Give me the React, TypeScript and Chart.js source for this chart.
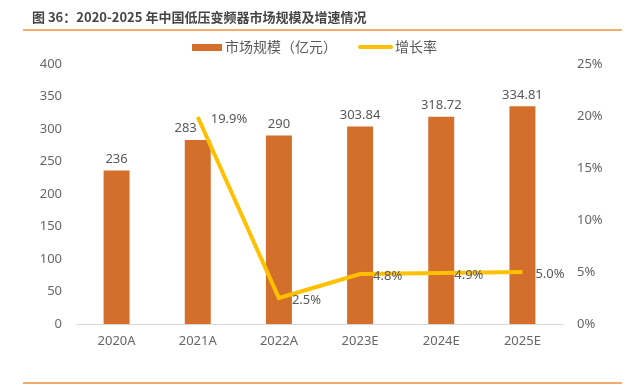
import React, { useEffect, useRef } from 'react';
import { Chart, registerables } from 'chart.js';

Chart.register(...registerables);

const titleText = '图 36：2020-2025 年中国低压变频器市场规模及增速情况';
const legendBarText = '市场规模（亿元）';
const legendLineText = '增长率';
const categories = ['2020A', '2021A', '2022A', '2023E', '2024E', '2025E'];
const marketSize = [236, 283, 290, 303.84, 318.72, 334.81];
const marketSizeLabels = ['236', '283', '290', '303.84', '318.72', '334.81'];
const growthRate: (number | null)[] = [null, 19.9, 2.5, 4.8, 4.9, 5.0];
const growthLabels: (string | null)[] = [null, '19.9%', '2.5%', '4.8%', '4.9%', '5.0%'];
const leftTicks = [0, 50, 100, 150, 200, 250, 300, 350, 400];
const rightTicks = [0, 5, 10, 15, 20, 25];

const BAR_COLOR = '#D46F2B';
const LINE_COLOR = '#FFC000';
const TEXT_COLOR = '#595959';
const TICK_COLOR = '#666666';
const ACCENT = '#F0913A';
const NUM_FONT = '"Noto Sans", "Noto Sans CJK SC", sans-serif';
const CJK_FONT = '"Noto Sans CJK SC", "Noto Sans", sans-serif';

const decorPlugin = {
  id: 'decor',
  afterDatasetDraw(chart: any, args: any) {
    if (args.meta.type !== 'bar') return;
    const ctx = chart.ctx;
    ctx.save();
    ctx.fillStyle = TEXT_COLOR;
    ctx.font = `13px ${NUM_FONT}`;
    ctx.textBaseline = 'bottom';
    const lineMeta = chart.getDatasetMeta(1);
    args.meta.data.forEach((el: any, i: number) => {
      const pt = lineMeta.data[i];
      // move the label aside when the growth line would run through it
      if (growthRate[i] != null && pt && Math.abs(pt.y - (el.y - 12)) < 18) {
        ctx.textAlign = 'right';
        ctx.fillText(marketSizeLabels[i], el.x - 1, el.y - 5);
      } else {
        ctx.textAlign = 'center';
        ctx.fillText(marketSizeLabels[i], el.x, el.y - 5);
      }
    });
    ctx.restore();
  },
  afterDatasetsDraw(chart: any) {
    const ctx = chart.ctx;
    const lineMeta = chart.getDatasetMeta(1);
    ctx.save();
    ctx.fillStyle = TEXT_COLOR;
    ctx.font = `13px ${NUM_FONT}`;
    ctx.textAlign = 'left';
    ctx.textBaseline = 'middle';
    lineMeta.data.forEach((el: any, i: number) => {
      const lbl = growthLabels[i];
      if (lbl == null) return;
      ctx.fillText(lbl, el.x + 13, el.y + 2);
    });
    ctx.restore();
  },
  afterDraw(chart: any) {
    const ctx = chart.ctx;
    ctx.save();
    // title
    ctx.fillStyle = '#454545';
    ctx.font = `bold 13px ${CJK_FONT}`;
    ctx.textAlign = 'left';
    ctx.textBaseline = 'middle';
    ctx.fillText(titleText, 32, 17);
    // rules
    ctx.strokeStyle = ACCENT;
    ctx.lineWidth = 1.5;
    ctx.beginPath();
    ctx.moveTo(23, 30);
    ctx.lineTo(622, 30);
    ctx.moveTo(23, 383);
    ctx.lineTo(622, 383);
    ctx.stroke();
    // legend
    ctx.fillStyle = BAR_COLOR;
    ctx.fillRect(192, 44, 30, 7);
    ctx.fillStyle = TEXT_COLOR;
    ctx.font = `14px ${CJK_FONT}`;
    ctx.textBaseline = 'middle';
    ctx.fillText(legendBarText, 225, 47);
    ctx.strokeStyle = LINE_COLOR;
    ctx.lineWidth = 4;
    ctx.lineCap = 'round';
    ctx.beginPath();
    ctx.moveTo(360, 47);
    ctx.lineTo(391, 47);
    ctx.stroke();
    ctx.fillText(legendLineText, 395, 47);
    ctx.restore();
  },
};

export default function App() {
  const canvasRef = useRef<HTMLCanvasElement | null>(null);

  useEffect(() => {
    if (!canvasRef.current) return;
    const chart = new Chart(canvasRef.current, {
      type: 'bar',
      data: {
        labels: categories,
        datasets: [
          {
            type: 'bar',
            label: legendBarText,
            data: marketSize,
            backgroundColor: BAR_COLOR,
            yAxisID: 'y',
            order: 1,
            categoryPercentage: 1,
            barPercentage: 0.32,
          },
          {
            type: 'line',
            label: legendLineText,
            data: growthRate,
            borderColor: LINE_COLOR,
            backgroundColor: LINE_COLOR,
            borderWidth: 4,
            pointRadius: 0,
            pointHoverRadius: 0,
            tension: 0,
            yAxisID: 'y1',
            order: 0,
          },
        ] as any,
      },
      options: {
        animation: false,
        responsive: false,
        devicePixelRatio: 1,
        layout: { padding: { left: 0, right: 0, top: 64, bottom: 28 } },
        plugins: {
          legend: { display: false },
          title: { display: false },
          tooltip: { enabled: false },
        },
        scales: {
          x: {
            offset: true,
            grid: { display: false, drawTicks: false },
            border: { display: true, color: '#D9D9D9', width: 1 },
            ticks: {
              color: TICK_COLOR,
              font: { family: NUM_FONT, size: 13 },
              padding: 9,
              maxRotation: 0,
            },
            afterFit(scale: any) {
              scale.height = 40;
            },
          },
          y: {
            position: 'left',
            min: 0,
            max: 400,
            afterBuildTicks(scale: any) {
              scale.ticks = leftTicks.map((v) => ({ value: v }));
            },
            grid: { display: false, drawTicks: false },
            border: { display: false },
            ticks: {
              color: TICK_COLOR,
              font: { family: NUM_FONT, size: 13 },
              padding: 14,
            },
            afterFit(scale: any) {
              scale.width = 76;
            },
          },
          y1: {
            position: 'right',
            min: 0,
            max: 25,
            afterBuildTicks(scale: any) {
              scale.ticks = rightTicks.map((v) => ({ value: v }));
            },
            grid: { display: false, drawTicks: false },
            border: { display: false },
            ticks: {
              color: TICK_COLOR,
              font: { family: NUM_FONT, size: 13 },
              padding: 14,
              callback: (v: any) => `${v}%`,
            },
            afterFit(scale: any) {
              scale.width = 78;
            },
          },
        },
      } as any,
      plugins: [decorPlugin],
    });
    return () => chart.destroy();
  }, []);

  return (
    <div style={{ position: 'absolute', left: 0, top: 0, width: 641, height: 392, background: '#fff' }}>
      <canvas ref={canvasRef} width={641} height={392} style={{ width: 641, height: 392, display: 'block' }} />
    </div>
  );
}
